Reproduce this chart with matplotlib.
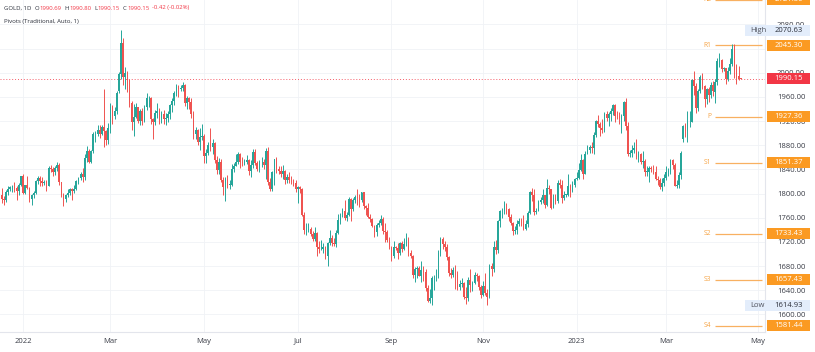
import matplotlib
matplotlib.use("Agg")
import matplotlib.pyplot as plt
import matplotlib.transforms as mtrans
from matplotlib.patches import Rectangle
import numpy as np
import pandas as pd

plt.rcParams['font.family'] = ['Open Sans', 'DejaVu Sans']

# ---------------- data (daily candles, first bar 2021-12-20, weekdays) ----------------
start_date = '2021-12-20'

opens = [
    1798,1791,1789,1803,1808,1811,1811,1810,1805,1815,
    1829,1801,1814,1810,1791,1797,1801,1821,1826,1821,1817,1819,1813,1843,1840,1835,1843,1848,1819,1797,1791,
    1797,1801,1807,1805,1808,1821,1826,1833,1827,1859,1871,1853,1871,1898,1898,1906,1898,1910,1903,1889,
    1909,1943,1928,1936,1970,1998,2050,1993,2000,1988,1950,1918,1927,1943,1921,1936,1921,1944,1958,1958,1923,1919,1933,
    1937,1925,1932,1923,1925,1931,1946,1954,1966,1977,1974,1975,1979,1950,1958,1951,1931,1898,1905,1886,1894,
    1896,1863,1868,1881,1877,1883,1855,1839,1852,1822,1811,1824,1815,1815,1841,1846,1853,1865,1853,1851,1853,1856,
    1837,1847,1869,1851,1841,1852,1853,1848,1871,1819,1808,1835,1857,1840,1838,1832,1838,1822,1827,1823,1820,1817,
    1807,1811,1808,1764,1739,1740,1742,1734,1725,1735,1711,1708,1709,1711,1696,1718,1727,1719,1717,1735,1756,
    1766,1772,1760,1765,1791,1775,1789,1794,1792,1789,1802,1779,1776,1761,1758,1747,1736,1748,1751,1758,1738,1737,1723,
    1711,1697,1712,1710,1702,1718,1708,1717,1725,1702,1697,1665,1675,1677,1664,1674,1671,1644,1622,1628,1660,1660,
    1661,1701,1725,1716,1712,1695,1668,1666,1673,1666,1645,1650,1652,1629,1627,1657,1649,1652,1665,1663,1645,
    1633,1647,1635,1629,1681,1676,1712,1706,1755,1771,1771,1776,1774,1761,1751,1738,1740,1750,1755,1754,1741,1749,
    1768,1803,1797,1769,1772,1786,1789,1797,1781,1810,1807,1777,1793,1788,1817,1814,1792,1798,1798,1813,1804,1815,
    1824,1826,1839,1855,1833,1866,1872,1877,1876,1897,1920,1916,1909,1905,1932,1926,1931,1937,1946,1929,1928,1923,
    1928,1951,1912,1865,1867,1873,1875,1861,1865,1853,1854,1836,1836,1842,1841,1835,1825,1822,1811,1817,
    1826,1836,1836,1856,1847,1813,1814,1831,1890,1912,1904,1918,1919,1988,1978,1941,1970,1993,1978,1956,1973,1964,1980,
    1969,1984,2020,2021,2007,2008,1990,2003,2014,2040,2004,1995,1990.69,
]
highs = [
    1810,1796,1806,1812,1813,1815,1820,1813,1817,1830,
    1832,1815,1830,1811,1800,1805,1823,1829,1829,1828,1822,1823,1845,1847,1844,1845,1852,1851,1820,1801,1800,
    1808,1810,1810,1815,1823,1828,1836,1842,1865,1879,1874,1873,1902,1903,1913,1913,1914,1974,1905,1917,
    1950,1947,1944,1970,2002,2070.63,2057,2009,2003,1989,1954,1949,1950,1944,1940,1941,1947,1966,1962,1960,1925,1938,1950,
    1942,1936,1938,1933,1936,1948,1958,1970,1981,1980,1979,1985,1981,1962,1960,1958,1936,1910,1907,1909,1915,
    1899,1874,1886,1909,1890,1885,1862,1859,1858,1828,1828,1831,1823,1849,1850,1865,1869,1867,1860,1858,1864,1857,
    1855,1874,1874,1854,1856,1860,1858,1875,1878,1826,1838,1857,1860,1846,1845,1847,1839,1833,1836,1830,1825,1822,
    1813,1812,1810,1770,1752,1752,1744,1738,1745,1736,1721,1724,1718,1714,1720,1740,1731,1726,1740,1767,1768,
    1776,1789,1769,1795,1792,1792,1797,1807,1800,1803,1803,1782,1785,1766,1760,1748,1751,1756,1765,1762,1751,1740,1728,
    1714,1722,1714,1718,1720,1722,1727,1735,1728,1706,1699,1678,1680,1680,1688,1681,1675,1648,1642,1663,1665,1675,
    1707,1729,1728,1722,1716,1696,1677,1679,1682,1672,1657,1660,1654,1645,1662,1675,1656,1670,1668,1666,1648,
    1655,1669,1642,1683,1685,1722,1723,1757,1773,1776,1787,1784,1776,1767,1753,1746,1756,1759,1759,1764,1757,1772,
    1805,1810,1808,1776,1790,1794,1807,1798,1824,1814,1808,1799,1799,1822,1824,1823,1804,1800,1833,1816,1821,1826,
    1835,1850,1865,1858,1870,1881,1881,1886,1902,1922,1930,1919,1924,1935,1937,1935,1942,1949,1949,1937,1935,1931,
    1953,1959,1918,1873,1880,1885,1890,1870,1868,1870,1857,1845,1845,1846,1847,1846,1829,1826,1826,1833,
    1845,1842,1858,1858,1851,1823,1835,1871,1914,1917,1937,1937,1989,2003.35,1983,1974,1997,2000,1980,1975,1976,1984,1987,
    1990,2025,2032,2023,2010,2008,2010,2025,2048,2048,2015,2012,1990.80,
]
lows = [
    1785,1782,1786,1798,1805,1802,1803,1789,1797,1813,
    1799,1799,1808,1786,1782,1792,1800,1816,1813,1813,1814,1805,1812,1835,1830,1831,1837,1815,1795,1780,1786,
    1795,1797,1789,1801,1806,1816,1823,1819,1822,1853,1850,1850,1868,1886,1896,1892,1897,1878,1880,1882,
    1900,1915,1923,1932,1966,1989,1979,1973,1968,1944,1906,1895,1925,1917,1913,1914,1919,1938,1943,1916,1890,1914,1925,
    1916,1917,1916,1914,1919,1924,1935,1947,1962,1960,1970,1970,1945,1940,1940,1925,1891,1891,1880,1872,1889,
    1850,1850,1864,1870,1866,1850,1832,1832,1820,1798,1787,1810,1808,1813,1836,1845,1849,1843,1845,1847,1849,1831,
    1828,1842,1848,1837,1835,1844,1840,1825,1815,1805,1804,1815,1834,1832,1828,1824,1816,1817,1818,1816,1812,1803,
    1784,1801,1763,1733,1732,1736,1730,1722,1721,1697,1702,1706,1701,1691,1680,1715,1713,1713,1711,1733,1750,
    1762,1757,1754,1763,1754,1771,1785,1782,1778,1786,1774,1765,1759,1753,1745,1728,1730,1744,1748,1734,1720,1720,1709,
    1688,1693,1706,1691,1698,1704,1706,1714,1697,1693,1660,1654,1660,1663,1654,1656,1639,1621,1619,1614.93,1641,1656,
    1660,1697,1708,1705,1690,1664,1660,1662,1642,1641,1640,1646,1626,1617,1622,1638,1639,1650,1656,1640,1627,
    1631,1632,1616,1628,1664,1671,1700,1702,1744,1759,1766,1766,1754,1748,1732,1733,1733,1746,1746,1740,1739,1745,
    1766,1787,1765,1767,1771,1783,1785,1776,1780,1800,1774,1776,1783,1785,1809,1784,1790,1795,1796,1795,1803,1811,
    1822,1825,1838,1825,1832,1865,1867,1868,1866,1894,1911,1896,1900,1902,1920,1912,1920,1930,1918,1923,1915,1900,
    1920,1906,1862,1860,1860,1868,1857,1853,1849,1843,1830,1830,1820,1836,1832,1822,1815,1808,1805,1813,
    1822,1829,1832,1840,1812,1809.42,1810,1824,1885,1894,1885,1910,1918,1964,1934,1936,1967,1974,1944,1949,1951,1959,1961,
    1950,1980,2010,2002,2003,1982,1987,1998,2012,1992,1981,1988,1990.15,
]
closes = [
    1791,1789,1803,1808,1811,1811,1810,1805,1815,1829,
    1801,1814,1810,1791,1797,1801,1821,1826,1821,1817,1819,1813,1843,1840,1835,1843,1848,1819,1797,1791,1797,
    1801,1807,1805,1808,1821,1826,1833,1827,1859,1871,1853,1871,1898,1898,1906,1898,1910,1903,1889,1909,
    1943,1928,1936,1966,1998,2050,1993,2000,1988,1950,1918,1927,1943,1921,1936,1921,1944,1958,1958,1923,1919,1933,1937,
    1925,1932,1923,1925,1931,1946,1954,1966,1977,1974,1975,1979,1950,1958,1951,1931,1898,1905,1886,1894,1896,
    1863,1868,1881,1877,1883,1855,1839,1852,1822,1811,1824,1815,1815,1841,1846,1853,1865,1853,1851,1853,1856,1837,
    1847,1869,1851,1841,1852,1853,1848,1871,1819,1808,1835,1857,1840,1838,1832,1838,1822,1827,1823,1820,1817,1807,
    1811,1808,1764,1739,1740,1742,1734,1725,1735,1711,1708,1709,1711,1696,1718,1727,1719,1717,1735,1756,1766,
    1772,1760,1765,1791,1775,1789,1794,1792,1789,1802,1779,1776,1761,1758,1747,1736,1748,1751,1758,1738,1737,1723,1711,
    1697,1712,1710,1702,1718,1708,1717,1725,1702,1697,1665,1675,1677,1664,1674,1671,1644,1622,1628,1660,1660,1661,
    1701,1725,1716,1712,1695,1668,1666,1673,1666,1645,1650,1652,1629,1627,1657,1649,1652,1665,1663,1645,1633,
    1647,1635,1629,1681,1676,1712,1706,1755,1771,1771,1776,1774,1761,1751,1738,1740,1750,1755,1754,1741,1749,1768,
    1803,1797,1769,1772,1786,1789,1797,1781,1810,1807,1777,1793,1788,1817,1814,1792,1798,1798,1813,1804,1815,1824,
    1826,1839,1855,1833,1866,1872,1877,1876,1897,1920,1916,1909,1905,1932,1926,1931,1937,1946,1929,1928,1923,1928,
    1951,1912,1865,1867,1873,1875,1861,1865,1853,1854,1836,1836,1842,1841,1835,1825,1822,1811,1817,1826,
    1836,1836,1856,1847,1813,1814,1831,1868,1912,1904,1918,1919,1988,1978,1941,1970,1993,1978,1956,1973,1964,1980,1969.31,
    1984,2020,2021,2007,2008,1990,2003,2014,2040,2004,1995,1990.57,1990.15,
]

pivot_names = ['R2', 'R1', 'P', 'S1', 'S2', 'S3', 'S4']
pivot_values = [2121.30, 2045.30, 1927.36, 1851.37, 1733.43, 1657.43, 1581.44]
pivot_start, pivot_end = '2023-04-03', '2023-05-03'
last_price = 1990.15
range_high = 2070.63
range_low = 1614.93
y_ticks = list(range(1600, 2081, 40))
x_tick_dates = ['2022-01-03', '2022-03-01', '2022-05-02', '2022-07-01', '2022-09-01',
                '2022-11-01', '2023-01-02', '2023-03-01', '2023-05-01']
x_tick_labels = ['2022', 'Mar', 'May', 'Jul', 'Sep', 'Nov', '2023', 'Mar', 'May']
header_symbol = 'GOLD, 1D'
header_ohlc = [('O', '1990.69'), ('H', '1990.80'), ('L', '1990.15'), ('C', '1990.15')]
header_change = '-0.42 (-0.02%)'
header_line2 = 'Pivots (Traditional, Auto, 1)'

assert len(opens) == len(highs) == len(lows) == len(closes), (len(opens), len(highs), len(lows), len(closes))

# ---------------- figure ----------------
W, H = 815, 352
UP, DOWN = '#26a69a', '#ef5350'
ORANGE, RED = '#fb9a22', '#f23645'
fig = plt.figure(figsize=(W / 100, H / 100), dpi=100)
fig.patch.set_facecolor('white')
ax = fig.add_axes([0, 20 / H, 765 / W, 332 / H])

all_dates = pd.bdate_range(start_date, '2023-06-30')
pos = {d: i for i, d in enumerate(all_dates)}
o = np.array(opens, float); h = np.array(highs, float)
l = np.array(lows, float); c = np.array(closes, float)
x = np.arange(len(c))
col = np.where(c >= o, UP, DOWN)

ax.vlines(x, l, h, colors=col, linewidth=0.7, zorder=3)
body = np.maximum(np.abs(c - o), 1.0)
ax.bar(x, body, bottom=np.minimum(o, c), width=0.75, color=col, linewidth=0, zorder=4)

# current price line
ax.axhline(last_price, color=RED, lw=0.7, linestyle=(0, (1, 2)), alpha=0.8, zorder=2)

# pivots
i0 = pos[pd.Timestamp(pivot_start)]
i1 = pos[pd.Timestamp(pivot_end)]
for name, v in zip(pivot_names, pivot_values):
    ax.hlines(v, i0, i1, color='#f8b061', lw=0.9, zorder=2)
    ax.text(i0 - 2.0, v, name, ha='right', va='center', fontsize=4.8, color='#f6a445', zorder=5)

ax.set_xlim(-0.8, 358.4)
ax.set_ylim(1571, 2120.5)

xt = [pos[pd.Timestamp(d)] for d in x_tick_dates]
ax.set_xticks(xt)
ax.set_xticklabels(x_tick_labels)
ax.set_yticks(y_ticks)
ax.set_yticklabels(['%.2f' % v for v in y_ticks])
ax.yaxis.tick_right()
ax.tick_params(axis='y', length=0, pad=8.5, labelsize=5.5, labelcolor='#3a3d47')
ax.tick_params(axis='x', length=0, pad=4.0, labelsize=5.5, labelcolor='#3a3d47')
ax.grid(True, color='#f0f2f6', lw=0.6, zorder=0)
ax.set_axisbelow(True)
for s in ['top', 'left']:
    ax.spines[s].set_visible(False)
for s in ['right', 'bottom']:
    ax.spines[s].set_color('#e3e5ec')
    ax.spines[s].set_linewidth(0.8)

# price-scale labels
trans = mtrans.blended_transform_factory(fig.transFigure, ax.transData)
px_per_unit = 332 / (2120.5 - 1571)
box_h = 11 / px_per_unit
bx0, bw = 767 / W, 43 / W
bxc = bx0 + bw / 2


def price_box(v, face, txtcol):
    fig.add_artist(Rectangle((bx0, v - box_h / 2), bw, box_h, transform=trans,
                             facecolor=face, edgecolor='none', zorder=5))
    fig.text(bxc, v, '%.2f' % v, transform=trans, ha='center', va='center',
             fontsize=5.5, color=txtcol, zorder=6)


for v in pivot_values:
    price_box(v, ORANGE, 'white')
price_box(last_price, RED, 'white')

for tag, v in [('High', range_high), ('Low', range_low)]:
    fig.add_artist(Rectangle((745 / W, v - box_h / 2), 65 / W, box_h, transform=trans,
                             facecolor='#e3edfb', edgecolor='none', zorder=5))
    fig.text(750 / W, v, tag, transform=trans, ha='left', va='center', fontsize=5.5,
             color='#50535e', zorder=6)
    fig.text(bxc, v, '%.2f' % v, transform=trans, ha='center', va='center',
             fontsize=5.5, color='#2a2e39', zorder=6)

# header
renderer = fig.canvas.get_renderer()
hx = 4.0
hy = 1 - 8 / H
pieces = [(header_symbol, '#2a2e39', 3.0)]
for k, val in header_ohlc:
    pieces.append((k, '#2a2e39', 0.4))
    pieces.append((val, RED, 3.0))
pieces.append((header_change, RED, 0))
for s, colr, gap in pieces:
    t = fig.text(hx / W, hy, s, fontsize=4.35, color=colr, ha='left', va='center')
    hx += t.get_window_extent(renderer).width + gap
fig.text(4 / W, 1 - 22 / H, header_line2, fontsize=4.35, color='#2a2e39', ha='left', va='center')

fig.savefig('out.png', dpi=100)
